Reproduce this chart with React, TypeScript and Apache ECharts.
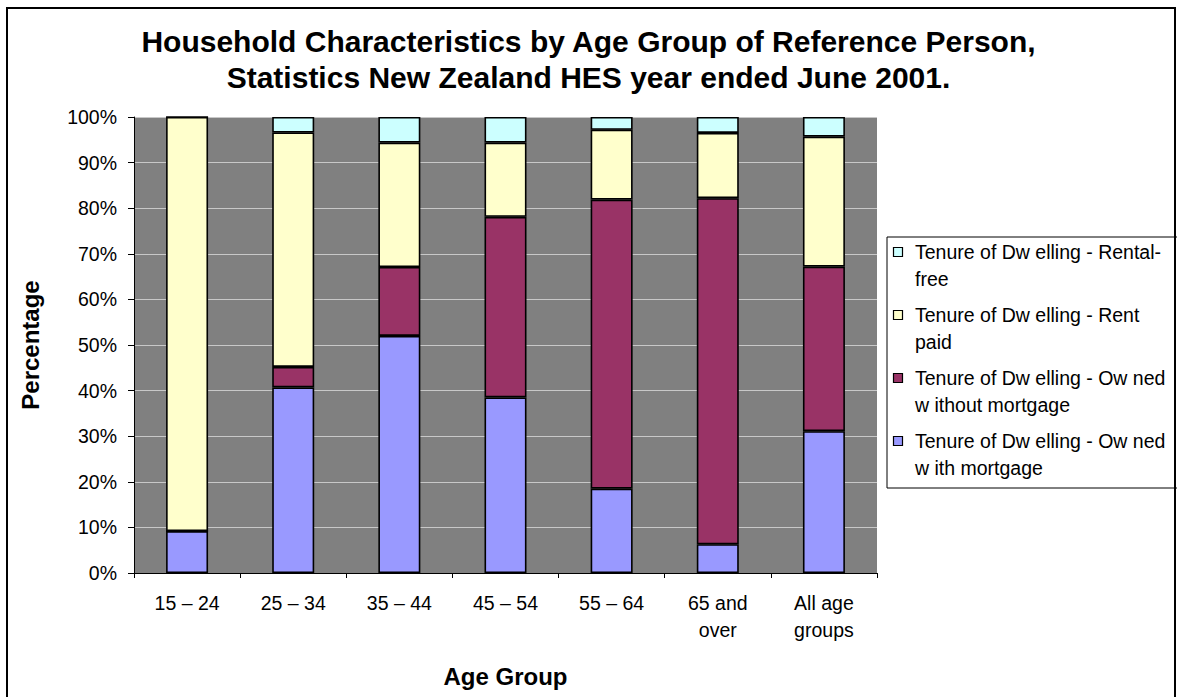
import React, { useEffect, useRef } from "react";
import * as echarts from "echarts";

const categories = ["15 – 24", "25 – 34", "35 – 44", "45 – 54", "55 – 64", "65 and\nover", "All age\ngroups"];
const ownedWithMortgage = [9.2, 40.7, 52.0, 38.5, 18.5, 6.3, 31.1];
const ownedWithoutMortgage = [0, 4.5, 15.1, 39.6, 63.4, 75.9, 36.1];
const rentPaid = [90.8, 51.4, 27.3, 16.3, 15.3, 14.3, 28.5];
const rentalFree = [0, 3.4, 5.6, 5.6, 2.8, 3.5, 4.3];

const seriesNames = [
  "Tenure of Dw elling - Ow ned\nw ith mortgage",
  "Tenure of Dw elling - Ow ned\nw ithout mortgage",
  "Tenure of Dw elling - Rent\npaid",
  "Tenure of Dw elling - Rental-\nfree",
];
const seriesColors = ["#9999FF", "#993366", "#FFFFCC", "#CCFFFF"];
const seriesValues = [ownedWithMortgage, ownedWithoutMortgage, rentPaid, rentalFree];
const yTicks = [0, 10, 20, 30, 40, 50, 60, 70, 80, 90, 100];

const FONT = "'Liberation Sans', Arial, sans-serif";

export default function App() {
  const ref = useRef<HTMLDivElement>(null);
  useEffect(() => {
    if (!ref.current) return;
    const chart = echarts.init(ref.current, undefined, { renderer: "svg" });
    const legendOrder = [3, 2, 1, 0];
    const legendGraphics: any[] = [
      {
        type: "rect",
        shape: { x: 887, y: 237, width: 320, height: 251 },
        style: { fill: "#fff", stroke: "#000", lineWidth: 1 },
        z: 10,
      },
    ];
    legendOrder.forEach((si, i) => {
      legendGraphics.push({
        type: "rect",
        shape: { x: 893.5, y: 247.5 + i * 63, width: 9, height: 9 },
        style: { fill: seriesColors[si], stroke: "#000", lineWidth: 1.2 },
        z: 11,
      });
      legendGraphics.push({
        type: "text",
        x: 915,
        y: 238.5 + i * 63,
        style: {
          text: seriesNames[si],
          font: `19.5px ${FONT}`,
          lineHeight: 27,
          fill: "#000",
          verticalAlign: "top",
          align: "left",
        },
        z: 11,
      });
    });

    chart.setOption({
      animation: false,
      backgroundColor: "#fff",
      title: {
        text: "Household Characteristics by Age Group of Reference Person,\nStatistics New Zealand HES year ended June 2001.",
        left: "center",
        top: 23,
        padding: 0,
        textStyle: {
          fontFamily: FONT,
          fontSize: 30,
          fontWeight: "bold",
          color: "#000",
          lineHeight: 36,
        },
      },
      grid: {
        left: 134,
        top: 117,
        right: 300,
        bottom: 124,
        show: true,
        backgroundColor: "#808080",
        borderWidth: 0,
        outerBoundsMode: "none",
        containLabel: false,
      },
      xAxis: {
        type: "category",
        data: categories,
        name: "Age Group",
        nameLocation: "middle",
        nameGap: 91,
        nameTextStyle: { fontFamily: FONT, fontSize: 24, fontWeight: "bold", color: "#000" },
        axisLine: { lineStyle: { color: "#000", width: 1 } },
        axisTick: { show: true, length: 5, lineStyle: { color: "#000" } },
        axisLabel: {
          fontFamily: FONT,
          fontSize: 19.5,
          color: "#000",
          lineHeight: 27,
          margin: 16,
          interval: 0,
        },
      },
      yAxis: {
        type: "value",
        min: 0,
        max: 100,
        interval: 10,
        name: "Percentage",
        nameLocation: "middle",
        nameGap: 92,
        nameRotate: 90,
        nameTextStyle: { fontFamily: FONT, fontSize: 24, fontWeight: "bold", color: "#000" },
        axisLine: { show: true, lineStyle: { color: "#000", width: 1 } },
        axisTick: { show: true, length: 6, lineStyle: { color: "#000" } },
        axisLabel: {
          fontFamily: FONT,
          fontSize: 19.5,
          color: "#000",
          margin: 17,
          formatter: (v: number) => (yTicks.includes(v) ? `${v}%` : ""),
        },
        splitLine: { show: true, lineStyle: { color: "#c8c8c8", width: 1 } },
      },
      series: seriesValues.map((vals, i) => ({
        name: seriesNames[i],
        type: "bar",
        stack: "total",
        data: vals,
        barWidth: 42,
        itemStyle: { color: seriesColors[i], borderColor: "#000", borderWidth: 1.6 },
      })),
      graphic: [
        {
          type: "rect",
          shape: { x: 7, y: 8, width: 1168, height: 710 },
          style: { fill: "none", stroke: "#000", lineWidth: 2 },
          z: 20,
        },
        ...legendGraphics,
      ],
    });
    return () => chart.dispose();
  }, []);
  return (
    <div
      ref={ref}
      style={{ position: "absolute", left: 0, top: 0, width: 1177, height: 697 }}
    />
  );
}
